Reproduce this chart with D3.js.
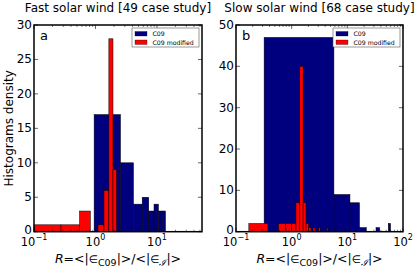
<!DOCTYPE html>
<html>
<head>
<meta charset="utf-8">
<script src="https://cdn.jsdelivr.net/npm/d3@7"></script>
<style>
  body { margin: 0; background: #fff; }
  svg { display: block; font-family: "DejaVu Sans", sans-serif; }
</style>
</head>
<body>
<script>
// bin edges + counts
const fastBlueEdges = [0.95, 2.55, 4.15, 5.75, 7.35, 8.95, 10.55, 12.15, 13.75];
const fastBlueCounts = [17, 10, 4, 5, 3, 4, 3, 3];
const fastRedEdges = [0.0, 0.275, 0.55, 0.825, 1.1, 1.375, 1.65, 1.925, 2.2];
const fastRedCounts = [1, 1, 3, 0, 1, 6, 28, 9];

const slowBlueEdges = [0.32, 5.74, 11.14, 16.54, 21.94, 27.34, 32.74, 38.14, 43.54, 48.94, 54.34, 59.74];
const slowBlueCounts = [47, 9, 7, 1, 0, 0, 1, 0, 0, 0, 2];
const slowRedEdges = [0.17, 0.375, 0.58, 0.785, 0.99, 1.195, 1.40, 1.605, 1.81, 2.015, 2.22,
                      2.425, 2.63, 2.835, 3.04, 3.245, 3.45, 3.655, 3.86, 4.065, 4.27, 4.475];
const slowRedCounts = [2, 0, 2, 2, 2, 7, 40, 7, 2, 1, 0, 1, 0, 0, 1, 0, 0, 0, 0, 0, 1];

const titles = ["Fast solar wind [49 case study]", "Slow solar wind [68 case study]"];
const panelLetters = ["a", "b"];
const seriesNames = ["C09", "C09 modified"];
const yTicksA = [0, 5, 10, 15, 20, 25, 30];
const yTicksB = [0, 10, 20, 30, 40, 50];
const xDecadesA = [-1, 0, 1];
const xDecadesB = [-1, 0, 1, 2];

const blue = "#00007f", red = "#ff0000";
const w = 415, h = 269;
const yTop = 25, yBot = 231.7;

const svg = d3.select("body").append("svg")
    .attr("width", w).attr("height", h);

const panels = [
    { left: 34, right: 202, xdom: [0.1, 54], ydom: [0, 30], yticks: yTicksA, decades: xDecadesA,
      blue: [fastBlueEdges, fastBlueCounts], red: [fastRedEdges, fastRedCounts] },
    { left: 236, right: 403, xdom: [0.1, 100], ydom: [0, 50], yticks: yTicksB, decades: xDecadesB,
      blue: [slowBlueEdges, slowBlueCounts], red: [slowRedEdges, slowRedCounts] }
];

function toBins(edges, counts) {
    return counts.map((c, i) => ({ x0: edges[i], x1: edges[i + 1], n: c })).filter(d => d.n > 0);
}

panels.forEach((p, k) => {
    let x = d3.scaleLog().domain(p.xdom).range([p.left, p.right]).clamp(true);
    let y = d3.scaleLinear().domain(p.ydom).range([yBot, yTop]);
    let g = svg.append("g");

    // bars
    [[p.blue, blue], [p.red, red]].forEach(([s, col]) => {
        g.selectAll(null)
            .data(toBins(s[0], s[1]))
            .enter()
            .append("rect")
            .attr("x", d => x(d.x0))
            .attr("width", d => x(d.x1) - x(d.x0))
            .attr("y", d => y(d.n))
            .attr("height", d => y(0) - y(d.n))
            .attr("fill", col)
            .attr("stroke", "#000")
            .attr("stroke-width", 0.5);
    });

    // frame
    g.append("rect")
        .attr("x", p.left).attr("y", yTop)
        .attr("width", p.right - p.left).attr("height", yBot - yTop)
        .attr("fill", "none").attr("stroke", "#000").attr("stroke-width", 1.5);

    // y ticks, inside on both sides
    p.yticks.forEach(t => {
        let yy = y(t);
        g.append("line").attr("x1", p.left).attr("x2", p.left + 4).attr("y1", yy).attr("y2", yy)
            .attr("stroke", "#000").attr("stroke-width", 0.6);
        g.append("line").attr("x1", p.right).attr("x2", p.right - 4).attr("y1", yy).attr("y2", yy)
            .attr("stroke", "#000").attr("stroke-width", 0.6);
        g.append("text")
            .attr("x", p.left - 2).attr("y", yy + (t === 0 ? 2.5 : 4))
            .attr("text-anchor", "end")
            .attr("font-size", 12)
            .text(t);
    });

    // x ticks (log): majors + minors, bottom and top
    let minors = [];
    d3.range(p.decades[0], Math.ceil(Math.log10(p.xdom[1]))).forEach(e => {
        for (let m = 2; m <= 9; m++) {
            let v = m * Math.pow(10, e);
            if (v > p.xdom[0] && v < p.xdom[1]) minors.push(v);
        }
    });
    minors.forEach(v => {
        let xx = x(v);
        g.append("line").attr("x1", xx).attr("x2", xx).attr("y1", yBot).attr("y2", yBot - 2)
            .attr("stroke", "#000").attr("stroke-width", 0.5);
        g.append("line").attr("x1", xx).attr("x2", xx).attr("y1", yTop).attr("y2", yTop + 2)
            .attr("stroke", "#000").attr("stroke-width", 0.5);
    });
    p.decades.forEach(e => {
        let xx = x(Math.pow(10, e));
        g.append("line").attr("x1", xx).attr("x2", xx).attr("y1", yBot).attr("y2", yBot - 4)
            .attr("stroke", "#000").attr("stroke-width", 0.6);
        g.append("line").attr("x1", xx).attr("x2", xx).attr("y1", yTop).attr("y2", yTop + 4)
            .attr("stroke", "#000").attr("stroke-width", 0.6);
        let lab = g.append("text")
            .attr("x", xx).attr("y", 246)
            .attr("text-anchor", "middle")
            .attr("font-size", 11.5);
        lab.append("tspan").text("10");
        lab.append("tspan").attr("dy", -6).attr("font-size", 8)
            .text(e < 0 ? "\u2212" + (-e) : e);
    });

    // title
    svg.append("text")
        .attr("x", (p.left + p.right) / 2).attr("y", 11.5)
        .attr("text-anchor", "middle")
        .attr("font-size", 12)
        .text(titles[k]);

    // panel letter
    svg.append("text")
        .attr("x", p.left + 6).attr("y", 40)
        .attr("font-size", 13)
        .text(panelLetters[k]);

    // x label
    let xl = svg.append("text")
        .attr("x", (p.left + p.right) / 2).attr("y", 263)
        .attr("text-anchor", "middle")
        .attr("font-size", 12.5);
    xl.append("tspan").attr("font-style", "italic").text("R");
    xl.append("tspan").text("=<|");
    xl.append("tspan").attr("font-size", 10.5).text("\u2208");
    xl.append("tspan").attr("dy", 3).attr("font-size", 9.5).text("C09");
    xl.append("tspan").attr("dy", -3).text("|>/<|");
    xl.append("tspan").attr("font-size", 10.5).text("\u2208");
    xl.append("tspan").attr("dy", 3).attr("font-size", 9.5).attr("font-style", "italic")
        .attr("font-family", "DejaVu Serif").text("\u2110");
    xl.append("tspan").attr("dy", -3).text("|>");

    // legend
    let lx = p.right - 70, ly = 28;
    let lg = svg.append("g").attr("transform", `translate(${lx},${ly})`);
    lg.append("rect").attr("width", 67).attr("height", 19)
        .attr("fill", "#fff").attr("stroke", "#555").attr("stroke-width", 0.6);
    [blue, red].forEach((col, i) => {
        lg.append("rect")
            .attr("x", 3).attr("y", 3.5 + i * 8.5)
            .attr("width", 12).attr("height", 4.5)
            .attr("fill", col).attr("stroke", "#000").attr("stroke-width", 0.3);
        lg.append("text")
            .attr("x", 20.5).attr("y", 8.3 + i * 8.5)
            .attr("font-size", 6.2)
            .text(seriesNames[i]);
    });
});

// shared y label
svg.append("text")
    .attr("transform", `translate(13,${(yTop + yBot) / 2}) rotate(-90)`)
    .attr("text-anchor", "middle")
    .attr("font-size", 12)
    .text("Histograms density");
</script>
</body>
</html>
